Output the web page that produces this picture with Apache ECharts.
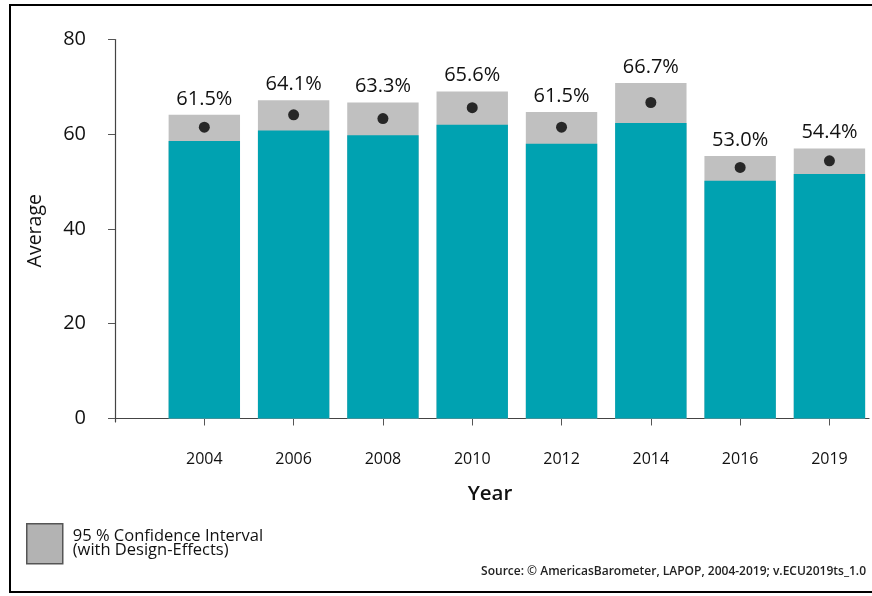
<!DOCTYPE html>
<html>
<head>
<meta charset="utf-8">
<script src="https://cdn.jsdelivr.net/npm/echarts@6/dist/echarts.min.js"></script>
<style>
html,body{margin:0;padding:0;background:#fff;}
#chart{width:872px;height:596px;}
</style>
</head>
<body>
<div id="chart"></div>
<script>
const categories = ['2004','2006','2008','2010','2012','2014','2016','2019'];
const means = [61.5, 64.1, 63.3, 65.6, 61.5, 66.7, 53.0, 54.4];
const lowerCI = [58.6, 60.8, 59.8, 62.0, 58.0, 62.4, 50.2, 51.6];
const upperCI = [64.1, 67.2, 66.7, 69.0, 64.7, 70.8, 55.4, 57.0];
const yTicks = [0, 20, 40, 60, 80];
const ciName = '95 % Confidence Interval\n(with Design-Effects)';

const xPos = categories.map((c, i) => i + 1);
const font = '"Open Sans", "DejaVu Sans", sans-serif';

const chart = echarts.init(document.getElementById('chart'));
chart.setOption({
  animation: false,
  backgroundColor: '#fff',
  textStyle: { fontFamily: font },
  grid: { left: 111, right: 3, top: 39.5, bottom: 174 },
  legend: {
    left: 21, top: 518, orient: 'vertical',
    itemWidth: 36, itemHeight: 40, itemGap: 0,
    icon: 'rect',
    selectedMode: false,
    textStyle: { fontFamily: font, fontSize: 16.5, lineHeight: 14, color: '#111', padding: [0, 0, 8, 5] },
    data: [{ name: ciName, itemStyle: { color: '#b3b3b3', borderColor: '#555', borderWidth: 1.5 } }]
  },
  xAxis: {
    type: 'value', min: -0.045, max: 8.443,
    name: 'Year', nameLocation: 'middle', nameGap: 62,
    nameTextStyle: { fontFamily: font, fontSize: 20.5, fontWeight: 600, color: '#111' },
    axisLine: { show: true, lineStyle: { color: '#444', width: 1.2 } },
    axisTick: { show: true, length: 7, customValues: xPos, lineStyle: { color: '#555' } },
    axisLabel: { customValues: xPos, margin: 29, fontSize: 16, color: '#111', fontFamily: font,
      formatter: v => categories[Math.round(v) - 1] || '' },
    splitLine: { show: false }
  },
  yAxis: {
    type: 'value', min: -0.74, max: 80,
    name: 'Average', nameLocation: 'middle', nameGap: 66, nameRotate: 90,
    nameTextStyle: { fontFamily: font, fontSize: 19.5, color: '#111' },
    axisLine: { show: true, lineStyle: { color: '#444', width: 1.2 } },
    axisTick: { show: true, length: 7, customValues: yTicks, lineStyle: { color: '#555' } },
    axisLabel: { customValues: yTicks, margin: 25, fontSize: 20, color: '#111', fontFamily: font },
    splitLine: { show: false }
  },
  series: [
    {
      name: ciName, type: 'bar', barWidth: 71.4, barGap: '-100%',
      itemStyle: { color: '#c0c0c0' },
      data: upperCI.map((v, i) => [xPos[i], v]),
      label: { show: true, position: 'top', distance: 6, fontSize: 20, color: '#111', fontFamily: font,
        formatter: p => means[p.dataIndex].toFixed(1) + '%' }
    },
    {
      name: 'lower', type: 'bar', barWidth: 71.4, barGap: '-100%',
      itemStyle: { color: '#00a2b1' },
      data: lowerCI.map((v, i) => [xPos[i], v])
    },
    {
      name: 'mean', type: 'scatter', symbolSize: 11, z: 5,
      itemStyle: { color: '#000' },
      data: means.map((v, i) => [xPos[i], v])
    }
  ],
  graphic: [
    { type: 'rect', shape: { x: 10, y: 5, width: 900, height: 587 }, style: { fill: 'none', stroke: '#000', lineWidth: 2 }, silent: true },
    { type: 'text', right: 6, top: 566, style: { text: 'Source: © AmericasBarometer, LAPOP, 2004-2019; v.ECU2019ts_1.0', fontFamily: font, fontSize: 12, fontWeight: 600, fill: '#222' } }
  ]
});
</script>
</body>
</html>
